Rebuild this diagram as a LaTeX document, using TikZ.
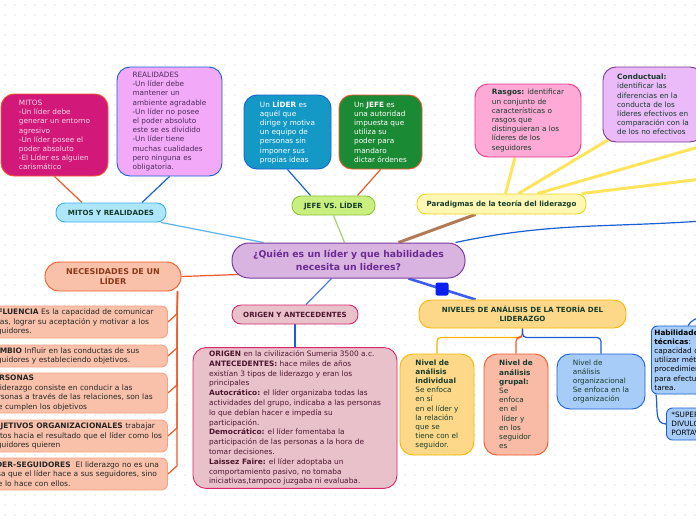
\documentclass[tikz,border=0pt]{standalone}
\usepackage{fontspec}
\setmainfont{DejaVu Sans}
\pgfdeclarelayer{dotlayer}
\pgfdeclarelayer{linklayer}
\pgfsetlayers{dotlayer,linklayer,main}
\definecolor{mitosfill}{HTML}{D2197A}
\definecolor{mitostext}{HTML}{F9D6EA}
\definecolor{realfill}{HTML}{F2AAF8}
\definecolor{realtext}{HTML}{4E2A5E}
\definecolor{lblue}{HTML}{1A5FD6}
\definecolor{orangeln}{HTML}{F05A28}
\definecolor{cyanfill}{HTML}{AEE6FA}
\definecolor{cyanborder}{HTML}{3DB1EA}
\definecolor{liderfill}{HTML}{1499C6}
\definecolor{jefefill}{HTML}{1B8A35}
\definecolor{limefill}{HTML}{C9F07E}
\definecolor{limeborder}{HTML}{8DC43E}
\definecolor{centerfill}{HTML}{D9B4E1}
\definecolor{centerborder}{HTML}{7A3D9E}
\definecolor{centertext}{HTML}{6B2A92}
\definecolor{yelfill}{HTML}{FFF8B4}
\definecolor{yelborder}{HTML}{EFD51E}
\definecolor{yelline}{HTML}{FFE45C}
\definecolor{brownln}{HTML}{B27A55}
\definecolor{rasgofill}{HTML}{FFAAD6}
\definecolor{rasgoborder}{HTML}{E8388C}
\definecolor{condfill}{HTML}{EBBBF9}
\definecolor{condborder}{HTML}{7B3697}
\definecolor{darktext}{HTML}{163B2C}
\definecolor{nivfill}{HTML}{FDD888}
\definecolor{nivborder}{HTML}{F5B700}
\definecolor{salfill}{HTML}{F9BBA6}
\definecolor{bluefill}{HTML}{A8CCF8}
\definecolor{deepblue}{HTML}{0A20F0}
\definecolor{nivlink}{HTML}{3D5CF0}
\definecolor{midblue}{HTML}{4D78EA}
\definecolor{origfill}{HTML}{E8C1CA}
\definecolor{origborder}{HTML}{D8286A}
\definecolor{origtext}{HTML}{4E1630}
\definecolor{necfill}{HTML}{F9C1AA}
\definecolor{nectext}{HTML}{8A3A18}
\definecolor{needborder}{HTML}{F8A283}
\definecolor{greenln}{HTML}{A9D06F}
\definecolor{skyln}{HTML}{5AB6EA}
\definecolor{dotgrey}{HTML}{E4E4E4}
\begin{document}
\begin{tikzpicture}[x=1pt, y=-1pt,
  textbox/.style={draw, line width=0.9pt, rounded corners=13pt, align=left, inner sep=3pt, font=\fontsize{7.3}{9.2}\selectfont},
  headbox/.style={draw, line width=0.9pt, rounded corners=9pt, align=center, inner sep=2pt, text=darktext, font=\bfseries\fontsize{7.1}{9}\selectfont},
  needbox/.style={draw=needborder, fill=necfill, line width=0.9pt, rounded corners=6pt, anchor=west, align=left, text width=176pt, inner xsep=3pt, inner ysep=2pt, text=black!85, font=\fontsize{7.5}{9.4}\selectfont},
  sidebox/.style={draw=lblue, fill=bluefill, line width=0.9pt, rounded corners=6pt, anchor=west, align=left, inner ysep=2pt, text=black, font=\fontsize{7.3}{9.2}\selectfont},
  conn/.style={line width=1.2pt},
  fatconn/.style={line width=3pt}]

\useasboundingbox (0,0) rectangle (696,520);
\begin{pgfonlayer}{dotlayer}
\fill[white] (0,0) rectangle (696,520);
\foreach \y in {5,15,...,515} {
	\foreach \x in {5,15,...,695} {
		\fill[dotgrey] (\x,\y) circle (0.8pt);
	}
}
\end{pgfonlayer}

\node[draw=centerborder, fill=centerfill, text=centertext, line width=1pt, rounded corners=17pt, minimum width=233, minimum height=35, align=center, font=\bfseries\fontsize{9.3}{13}\selectfont] (central) at (348.5,260.5) {¿Quién es un líder y que habilidades\\necesita un lideres?};

\node[textbox, fill=mitosfill, draw=orangeln, text=mitostext, minimum width=107, minimum height=82] (mitos) at (54.5,135) {MITOS\\-Un líder debe\\generar un entorno\\agresivo\\-Un líder posee el\\poder absoluto\\-El Líder es alguien\\carismático};
\node[textbox, fill=realfill, draw=lblue, text=realtext, minimum width=105, minimum height=109] (real) at (169.5,121.5) {REALIDADES\\-Un líder debe\\mantener un\\ambiente agradable\\-Un líder no posee\\el poder absoluto\\este se es dividido\\-Un líder tiene\\muchas cualidades\\pero ninguna es\\obligatoria.};
\node[headbox, fill=cyanfill, draw=cyanborder, minimum width=110, minimum height=19] (myr) at (111,212.5) {MITOS Y REALIDADES};

\node[textbox, fill=liderfill, draw=lblue, text=white, minimum width=87, minimum height=74] (lider) at (287.5,132) {Un \textbf{LÍDER} es\\aquél que\\dirige y motiva\\un equipo de\\personas sin\\imponer sus\\propias ideas};
\node[textbox, fill=jefefill, draw=orangeln, text=white, minimum width=83, minimum height=74] (jefe) at (380.5,132) {Un \textbf{JEFE} es\\una autoridad\\impuesta que\\utiliza su\\poder para\\mandaro\\dictar órdenes};
\node[headbox, fill=limefill, draw=limeborder, minimum width=83, minimum height=19] (jvl) at (333.5,205.5) {JEFE VS. LÍDER};

\node[headbox, fill=yelfill, draw=yelborder, minimum width=169, minimum height=20] (parad) at (501.5,204) {Paradigmas de la teoría del liderazgo};
\node[textbox, fill=rasgofill, draw=rasgoborder, text=darktext, minimum width=106, minimum height=73] (rasgos) at (528,120.5) {\textbf{Rasgos:} identificar\\un conjunto de\\características o\\rasgos que\\distinguieran a los\\líderes de los\\seguidores};
\node[textbox, fill=condfill, draw=condborder, text=darktext, minimum width=100, minimum height=75] (conduct) at (653,104.5) {\textbf{Conductual:}\\identificar las\\diferencias en la\\conducta de los\\líderes efectivos en\\comparación con la\\de los no efectivos};

\node[headbox, fill=nivfill, draw=nivborder, rounded corners=12pt, minimum width=207, minimum height=28] (niveles) at (522.5,314) {NIVELES DE ANÁLISIS DE LA TEORÍA DEL\\LIDERAZGO};
\node[textbox, fill=nivfill, draw=nivborder, text=darktext, minimum width=74, minimum height=101] (indiv) at (437,404.5) {\textbf{Nivel de}\\\textbf{análisis}\\\textbf{individual}\\Se enfoca\\en sí\\en el líder y\\la relación\\que se\\tiene con el\\seguidor.};
\node[textbox, fill=salfill, draw=orangeln, text=darktext, minimum width=64, minimum height=101] (grupal) at (516,404.5) {\textbf{Nivel de}\\\textbf{análisis}\\\textbf{grupal:}\\Se\\enfoca\\en el\\\ líder y\\en los\\seguidor\\es};
\node[textbox, fill=bluefill, draw=lblue, text=darktext, minimum width=88, minimum height=55] (organiz) at (601,381.5) {Nivel de\\análisis\\organizacional\\Se enfoca en la\\organización};

\node[headbox, fill=origfill, draw=origborder, text=origtext, minimum width=126, minimum height=19] (origt) at (295,314.5) {ORIGEN Y ANTECEDENTES};
\node[textbox, fill=origfill, draw=origborder, text=origtext, minimum width=204, minimum height=138, font=\fontsize{7.4}{9.8}\selectfont] (origbox) at (295,418) {\textbf{ORIGEN} en la civilización Sumeria 3500 a.c.\\\textbf{ANTECEDENTES:} hace miles de años\\existían 3 tipos de liderazgo y eran los\\principales\\\textbf{Autocrático:} el líder organizaba todas las\\actividades del grupo, indicaba a las personas\\lo que debían hacer e impedía su\\participación.\\\textbf{Democrático:} el líder fomentaba la\\participación de las personas a la hora de\\tomar decisiones.\\\textbf{Laissez Faire:} el líder adoptaba un\\comportamiento pasivo, no tomaba\\iniciativas,tampoco juzgaba ni evaluaba.};

\node[headbox, fill=necfill, draw=orangeln, text=nectext, rounded corners=14pt, minimum width=136, minimum height=29, font=\bfseries\fontsize{8}{10}\selectfont] (nec) at (113,276.5) {NECESIDADES DE UN\\LÍDER};
\node[needbox, minimum height=32] (n1) at (-15,322) {\textbf{INFLUENCIA} Es la capacidad de comunicar\\ideas, lograr su aceptación y motivar a los\\seguidores.};
\node[needbox, minimum height=22] (n2) at (-15,356) {\textbf{CAMBIO} Influir en las conductas de sus\\seguidores y estableciendo objetivos.};
\node[needbox, minimum height=40] (n3) at (-15,393) {\textbf{PERSONAS}\\El liderazgo consiste en conducir a las\\personas a través de las relaciones, son las\\que cumplen los objetivos};
\node[needbox, minimum height=32] (n4) at (-15,436) {\textbf{OBJETIVOS ORGANIZACIONALES} trabajar\\juntos hacia el resultado que el líder como los\\seguidores quieren};
\node[needbox, minimum height=32] (n5) at (-15,474) {\textbf{LÍDER-SEGUIDORES}\ \ El liderazgo no es una\\cosa que el líder hace a sus seguidores, sino\\que lo hace con ellos.};

\node[sidebox, text width=84pt, inner xsep=3pt, minimum height=68] (hab) at (651,360) {\textbf{Habilidades}\\\textbf{técnicas}:\\capacidad de\\utilizar métodos,\\procedimientos\\para efectuar una\\tarea.};
\node[sidebox, text width=60pt, inner xsep=5pt, minimum height=32] (supe) at (666,424) {*SUPERVISAR\\*DIVULGAR\\*PORTAVOZ};

\coordinate (offA) at (702,146);
\coordinate (offB) at (702,179);
\coordinate (offC) at (702,221);
\coordinate (offH) at (704,316);

\begin{pgfonlayer}{linklayer}
\draw[conn, orangeln] (mitos.south) -- ([xshift=-29pt]myr.north);
\draw[conn, lblue] (real.south) -- ([xshift=31pt]myr.north);
\draw[conn, skyln] ([xshift=50pt]myr.south) -- ([xshift=-85pt]central.north);
\draw[conn, lblue] (lider.south) -- ([xshift=-23pt]jvl.north);
\draw[conn, orangeln] (jefe.south) -- ([xshift=24pt]jvl.north);
\draw[conn, greenln] (jvl.south) -- ([xshift=-4pt]central.north);
\draw[fatconn, brownln] ([xshift=50pt]central.north) -- ([xshift=-26pt]parad.south);
\draw[fatconn, yelline] ([xshift=4pt]parad.north) -- ([xshift=-13pt]rasgos.south);
\draw[fatconn, yelline] ([xshift=17pt]parad.north) -- ([xshift=8pt,yshift=4pt]conduct.south west);
\draw[fatconn, yelline] ([xshift=36pt]parad.north) -- (offA);
\draw[fatconn, yelline] ([xshift=80pt]parad.north) -- (offB);
\draw[conn, lblue] ([xshift=107pt]central.north) to[out=12,in=184] (offC);
\draw[line width=2.6pt, nivlink] ([xshift=60pt]central.south) -- node[fill=deepblue, minimum size=13pt, inner sep=0pt, rounded corners=2pt] (sq) {} ([xshift=-47pt]niveles.north);
\draw[conn, nivborder, rounded corners=4pt] (niveles.south) -- ++(0,9) -| (indiv.north);
\draw[conn, orangeln, rounded corners=4pt] (niveles.south) -- ++(0,9) -| (grupal.north);
\draw[conn, lblue, rounded corners=4pt] (niveles.south) -- ++(0,9) -| (organiz.north);
\draw[conn, midblue] ([xshift=-17pt]central.south) -- ([xshift=11pt]origt.north);
\draw[conn, lblue] (origt.south) -- (origbox.north);
\draw[conn, orangeln] ([xshift=7pt,yshift=-14pt]central.west) -- (nec.east);
\foreach \n in {n1,n2,n3,n4,n5} {
	\draw[conn, orangeln] ([xshift=-4pt]nec.south east) -- ([xshift=9pt,yshift=8pt]\n.east) -- (\n.east);
}
\draw[conn, lblue] ([xshift=37pt]hab.north west) to[out=60,in=200] (offH);
\draw[conn, lblue] ([xshift=5pt]hab.south west) to[out=-80,in=180] (supe.west);
\end{pgfonlayer}
\end{tikzpicture}
\end{document}
